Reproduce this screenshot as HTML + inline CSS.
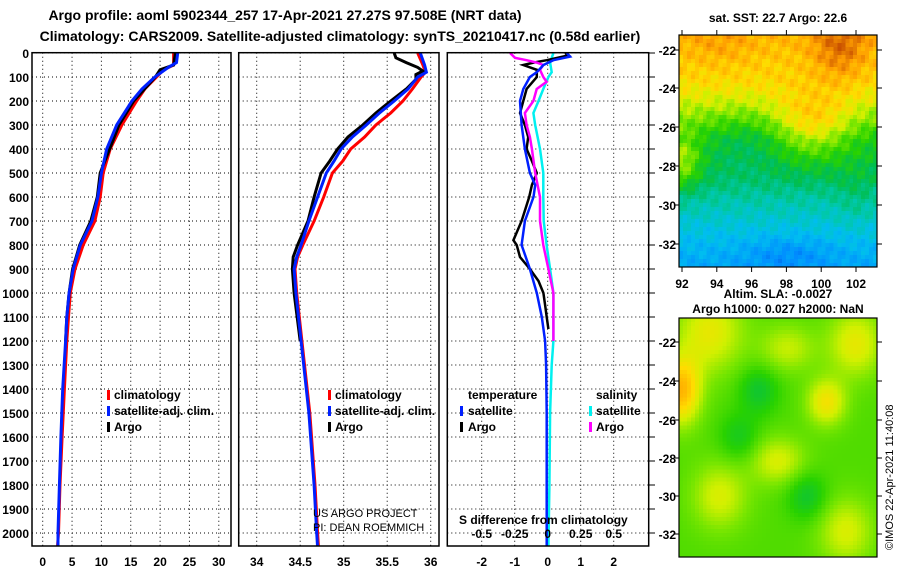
<!DOCTYPE html>
<html><head><meta charset="utf-8">
<style>
body{margin:0;background:#fff;}
#wrap{position:relative;width:900px;height:580px;overflow:hidden;background:#fff;font-family:"Liberation Sans",sans-serif;}
svg{position:absolute;left:0;top:0;}
canvas{position:absolute;image-rendering:pixelated;}
text{font-family:"Liberation Sans",sans-serif;}
.b{font-weight:bold;font-size:13px;}
.t{font-weight:bold;font-size:14px;}
.l{font-weight:bold;font-size:12px;}
</style></head><body>
<div id="wrap">
<canvas id="sst" width="50" height="58" style="left:679px;top:35px;width:198px;height:232px"></canvas>
<canvas id="sla" width="50" height="60" style="left:679px;top:318px;width:198px;height:239px"></canvas>
<svg id="chart" width="900" height="580"></svg>
</div>
<script>
// ---------- data ----------
const climTDepth=[0,50,70,100,150,200,300,400,500,600,700,800,900,1000,1100,1200,1400,1600,1800,2000,2060];
const climT=[22.3,22.3,20.6,19.4,17.4,16,13.5,11.5,10.3,9.8,8.9,6.9,5.5,4.7,4.4,4.1,3.7,3.3,2.95,2.7,2.5];
const satTDepth=[0,40,60,100,150,200,300,400,500,600,700,800,900,1000,1100,1200,1400,1600,1800,2000,2060];
const satT=[23,22.8,21.4,19.1,16.9,15.2,12.6,10.9,10,9.4,8.4,6.4,5.2,4.5,4.1,3.9,3.4,3.1,2.85,2.6,2.6];
const argoTDepth=[0,50,70,100,200,300,500,600,700,800,850,900,1000,1100,1200];
const argoT=[22.6,22.3,20,19.2,15.5,13,9.8,9.3,8.2,6.3,5.7,5.1,4.5,4.1,3.9];

const climSDepth=[0,50,80,100,150,200,250,300,350,400,450,500,600,700,800,850,900,1000,1200,1500,1800,2000,2060];
const climS=[35.85,35.91,35.94,35.89,35.79,35.68,35.54,35.37,35.24,35.08,34.99,34.87,34.77,34.66,34.53,34.47,34.44,34.46,34.52,34.61,34.67,34.70,34.71];
const satSDepth=[0,50,80,100,150,200,250,300,350,400,450,500,600,700,800,850,900,1000,1200,1500,1800,2000,2060];
const satS=[35.88,35.93,35.95,35.85,35.74,35.58,35.41,35.26,35.1,34.97,34.89,34.8,34.7,34.6,34.51,34.46,34.43,34.45,34.51,34.6,34.66,34.69,34.7];
const argoSDepth=[0,20,40,60,75,90,110,150,200,250,300,350,400,450,500,600,700,800,850,900,1000,1200];
const argoS=[35.58,35.6,35.72,35.85,35.91,35.83,35.83,35.72,35.54,35.37,35.22,35.05,34.93,34.84,34.74,34.66,34.59,34.47,34.42,34.41,34.43,34.5];

const dTsatDepth=[0,15,30,50,80,100,150,200,300,400,500,550,600,700,800,900,1000,1100,1200,1300,1500,2060];
const dTsat=[0.58,0.68,0.17,-0.13,-0.33,-0.54,-0.74,-0.84,-0.79,-0.69,-0.54,-0.38,-0.43,-0.69,-0.79,-0.54,-0.33,-0.18,-0.08,-0.05,-0.03,-0.03];
const dTargoDepth=[0,10,30,40,50,70,100,150,200,250,300,350,400,450,500,550,600,700,780,800,850,900,950,1000,1050,1100,1150];
const dTargo=[0.53,0.63,-0.03,-0.43,-0.74,-0.33,-0.33,-0.64,-0.74,-0.84,-0.69,-0.59,-0.64,-0.48,-0.33,-0.48,-0.56,-0.79,-1.04,-0.94,-0.84,-0.54,-0.28,-0.13,-0.08,-0.03,0.02];
const dSsatDepth=[0,40,80,100,150,200,250,300,400,500,600,700,800,900,1000,1100,1200,1300,1500,1800,2060];
const dSsat=[0.043,0.018,0.03,0.005,-0.033,-0.07,-0.108,-0.095,-0.058,-0.033,-0.033,-0.03,-0.008,0.018,0.043,0.043,0.043,0.03,0.018,0.013,0.005];
const dSargoDepth=[0,20,30,40,50,70,100,120,150,200,250,300,350,400,500,600,700,800,900,1000,1100,1200];
const dSargo=[-0.285,-0.248,-0.16,-0.083,-0.033,-0.058,-0.033,-0.008,-0.083,-0.108,-0.173,-0.16,-0.135,-0.12,-0.095,-0.058,-0.058,-0.033,0.005,0.043,0.043,0.043];

const depthTicks=[0,100,200,300,400,500,600,700,800,900,1000,1100,1200,1300,1400,1500,1600,1700,1800,1900,2000];
const tTicks=[0,5,10,15,20,25,30];
const sTicks=[34,34.5,35,35.5,36];
const sTickLabels=['34','34.5','35','35.5','36'];
const dTicks=[-2,-1,0,1,2];
const dsTicks=[-0.5,-0.25,0,0.25,0.5];

// ---------- axes ----------
const yD=d=>53+0.24*d;
const xT=t=>42.7+5.87*t;
const xS=s=>256.7+87*(s-34);
const xDT=v=>547.7+33*v;
const xDS=v=>547.7+132*v;

const NS='http://www.w3.org/2000/svg';
const svg=document.getElementById('chart');
function mk(tag,at,parent){const e=document.createElementNS(NS,tag);for(const k in at)e.setAttribute(k,at[k]);(parent||svg).appendChild(e);return e;}
function txt(x,y,s,cls,anchor){const e=mk('text',{x:x,y:y,class:cls||'b','text-anchor':anchor||'start'});e.textContent=s;return e;}

const frames=[{x0:32,x1:231},{x0:238.7,x1:439},{x0:447.3,x1:648.7}];
const pTop=52.7,pBot=546;
const defs=mk('defs',{});
frames.forEach((f,i)=>{const c=mk('clipPath',{id:'clip'+i},defs);mk('rect',{x:f.x0,y:pTop,width:f.x1-f.x0,height:pBot-pTop},c);});

frames.forEach((f,i)=>{
  const g=mk('g',{});
  
  
  depthTicks.forEach(d=>{mk('line',{x1:f.x0,x2:f.x1,y1:yD(d),y2:yD(d),stroke:'#000','stroke-width':1,'stroke-dasharray':'1,3'},g);});
  const xs=i==0?tTicks.map(xT):i==1?sTicks.map(xS):dTicks.map(xDT);
  xs.forEach(x=>mk('line',{x1:x,x2:x,y1:pTop,y2:pBot,stroke:'#000','stroke-width':1,'stroke-dasharray':'1,3'},g));
});

function series(depths,vals,fx,color,w,clip,name){
  const pts=depths.map((d,i)=>fx(vals[i]).toFixed(1)+','+yD(d).toFixed(1)).join(' ');
  const p=mk('polyline',{points:pts,fill:'none',stroke:color,'stroke-width':w,'clip-path':'url(#clip'+clip+')','stroke-linejoin':'miter'});
  
  
}
series(climTDepth,climT,xT,'#ff0000',3,0,'temp-climatology-line');
series(argoTDepth,argoT,xT,'#000',3,0,'temp-argo-line');
series(satTDepth,satT,xT,'#0020ff',3,0,'temp-satellite-line');
series(climSDepth,climS,xS,'#ff0000',3,1,'sal-climatology-line');
series(argoSDepth,argoS,xS,'#000',3,1,'sal-argo-line');
series(satSDepth,satS,xS,'#0020ff',3,1,'sal-satellite-line');
series(dSsatDepth,dSsat,xDS,'#00f0f0',2.5,2,'sdiff-satellite-line');
series(dTargoDepth,dTargo,xDT,'#000',2.5,2,'tdiff-argo-line');
series(dSargoDepth,dSargo,xDS,'#ff00ff',2.5,2,'sdiff-argo-line');
series(dTsatDepth,dTsat,xDT,'#0020ff',2.5,2,'tdiff-satellite-line');

frames.forEach((f,i)=>{const r=mk('rect',{x:f.x0,y:pTop,width:f.x1-f.x0,height:pBot-pTop,fill:'none',stroke:'#000','stroke-width':1.5});
});
depthTicks.forEach(d=>mk('line',{x1:648.7,x2:655,y1:yD(d),y2:yD(d),stroke:'#000','stroke-width':1}));

depthTicks.forEach(d=>{const t=txt(29,yD(d)+5,String(d),'l','end');});
tTicks.forEach(v=>{const t=txt(xT(v),566,String(v),'l','middle');});
sTicks.forEach((v,i)=>{const t=txt(xS(v),566,sTickLabels[i],'l','middle');});
dTicks.forEach(v=>{const t=txt(xDT(v),566,String(v),'l','middle');});
dsTicks.forEach(v=>{const t=txt(xDS(v),538,String(v),'l','middle');});

// ---------- maps ----------
const cmap=[[0,[0,40,190]],[0.15,[0,140,255]],[0.28,[0,190,240]],[0.38,[0,200,170]],[0.48,[0,190,80]],[0.58,[40,210,0]],[0.66,[120,230,0]],[0.73,[210,240,0]],[0.8,[255,220,0]],[0.9,[255,160,0]],[1,[200,80,0]]];
function col(v){v=Math.max(0,Math.min(1,v));for(let i=1;i<cmap.length;i++){if(v<=cmap[i][0]){const a=cmap[i-1],b=cmap[i],t=(v-a[0])/(b[0]-a[0]);return 'rgb('+a[1].map((c,k)=>Math.round(c+(b[1][k]-c)*t)).join(',')+')';}}return 'rgb(200,80,0)';}
function blob(u,w,cu,cw,su,sw){return Math.exp(-((u-cu)*(u-cu)/su+(w-cw)*(w-cw)/sw));}
function interp(w,ws,vs){for(let i=1;i<ws.length;i++)if(w<=ws[i]){const t=(w-ws[i-1])/(ws[i]-ws[i-1]);return vs[i-1]+(vs[i]-vs[i-1])*t;}return vs[vs.length-1];}
(function(){const c=document.getElementById('sst').getContext('2d');
for(let j=0;j<58;j++)for(let i=0;i<50;i++){const u=i/49,w=j/57;
let v=interp(w,[0,0.2,0.3,0.45,0.62,0.72,0.85,1],[0.86,0.8,0.72,0.54,0.46,0.38,0.3,0.22]);
v+=0.12*blob(u,w,0.82,0.05,0.02,0.02)+0.04*blob(u,w,0.2,0.03,0.03,0.01);
v+=0.18*blob(u,w,0.68,0.4,0.04,0.02)+0.2*blob(u,w,0.0,0.55,0.01,0.015);
v-=0.05*blob(u,w,0.35,0.45,0.03,0.02)-0.04*blob(u,w,0.9,0.7,0.01,0.02);
v-=0.08*blob(u,w,0.55,0.95,0.05,0.005);
v+=0.025*Math.sin(i*1.7+j*0.9)+0.02*Math.sin(i*0.6-j*1.3);
c.fillStyle=col(v);c.fillRect(i,j,1,1);}})();
(function(){const c=document.getElementById('sla').getContext('2d');
for(let j=0;j<60;j++)for(let i=0;i<50;i++){const u=i/49,w=j/59;
let v=0.62+0.14*blob(u,w,0.15,0.05,0.03,0.03)+0.24*blob(u,w,0.0,0.3,0.01,0.02)+0.14*blob(u,w,0.9,0.1,0.02,0.02)
+0.16*blob(u,w,0.75,0.35,0.01,0.01)+0.12*blob(u,w,0.5,0.6,0.02,0.01)+0.12*blob(u,w,0.2,0.75,0.02,0.02)+0.12*blob(u,w,0.85,0.9,0.02,0.02)+0.1*blob(u,w,0.55,0.12,0.02,0.01)
-0.1*blob(u,w,0.4,0.3,0.01,0.01)-0.1*blob(u,w,0.65,0.75,0.01,0.01)-0.08*blob(u,w,0.3,0.5,0.01,0.01);
c.fillStyle=col(v);c.fillRect(i,j,1,1);}})();
[[35,267,[-22,-24,-26,-28,-30,-32],[50,88,127,166,205,244]],[318,557,[-22,-24,-26,-28,-30,-32],[342,381,420,458,496,534]]].forEach((m,k)=>{
 const r=mk('rect',{x:679,y:m[0],width:198,height:m[1]-m[0],fill:'none',stroke:'#000','stroke-width':1.2});
 
 m[2].forEach((v,i)=>{txt(676,m[3][i]+5,String(v),'l','end');mk('line',{x1:877,x2:882,y1:m[3][i],y2:m[3][i],stroke:'#000'});mk('line',{x1:674,x2:679,y1:m[3][i],y2:m[3][i],stroke:'#000'});});
});
[92,94,96,98,100,102].forEach((v,i)=>{const x=682+34.8*i;txt(x,288,String(v),'l','middle');mk('line',{x1:x,x2:x,y1:267,y2:272,stroke:'#000'});mk('line',{x1:x,x2:x,y1:30,y2:35,stroke:'#000'});});
</script>
<svg width="900" height="580" style="position:absolute;left:0;top:0">
<text x="285" y="20" text-anchor="middle" class="t">Argo profile: aoml 5902344_257 17-Apr-2021 27.27S 97.508E (NRT data)</text>
<text x="340" y="41" text-anchor="middle" class="t">Climatology: CARS2009. Satellite-adjusted climatology: synTS_20210417.nc (0.58d earlier)</text>
<text x="778" y="22" text-anchor="middle" class="l">sat. SST: 22.7 Argo: 22.6</text>
<text x="778" y="298" text-anchor="middle" class="l">Altim. SLA: -0.0027</text>
<text x="778" y="313" text-anchor="middle" class="l">Argo h1000: 0.027 h2000: NaN</text>
<text transform="translate(893,550) rotate(-90)" style="font-size:11px">©IMOS 22-Apr-2021 11:40:08</text>
<g>
<rect x="107" y="390" width="3" height="10" fill="#f00"/><text x="114" y="399" class="l">climatology</text>
<rect x="107" y="406" width="3" height="10" fill="#0020ff"/><text x="114" y="415" class="l">satellite-adj. clim.</text>
<rect x="107" y="422" width="3" height="10" fill="#000"/><text x="114" y="431" class="l">Argo</text>
</g>
<g>
<rect x="328" y="390" width="3" height="10" fill="#f00"/><text x="335" y="399" class="l">climatology</text>
<rect x="328" y="406" width="3" height="10" fill="#0020ff"/><text x="335" y="415" class="l">satellite-adj. clim.</text>
<rect x="328" y="422" width="3" height="10" fill="#000"/><text x="335" y="431" class="l">Argo</text>
</g>
<g>
<text x="468" y="399" class="l">temperature</text>
<rect x="460" y="406" width="3" height="10" fill="#0020ff"/><text x="468" y="415" class="l">satellite</text>
<rect x="460" y="422" width="3" height="10" fill="#000"/><text x="468" y="431" class="l">Argo</text>
<text x="596" y="399" class="l">salinity</text>
<rect x="589" y="406" width="3" height="10" fill="#00f0f0"/><text x="596" y="415" class="l">satellite</text>
<rect x="589" y="422" width="3" height="10" fill="#f0f"/><text x="596" y="431" class="l">Argo</text>
</g>
<text x="313" y="517" style="font-size:11px">US ARGO PROJECT</text>
<text x="313" y="531" style="font-size:11px">PI: DEAN ROEMMICH</text>
<text x="459" y="524" class="l">S difference from climatology</text>
</svg>
</body></html>
